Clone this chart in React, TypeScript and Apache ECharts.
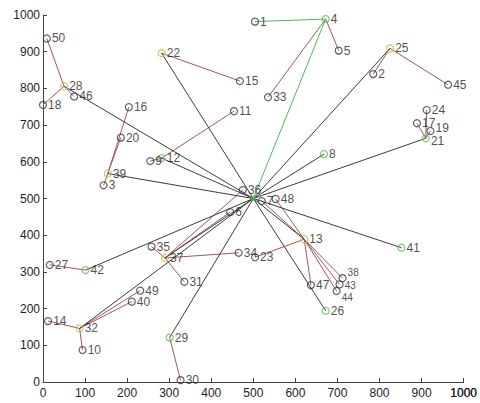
import React, { useEffect, useRef } from "react";
import * as echarts from "echarts";

// ---- data ----
const nodeIds = [
  1, 2, 3, 4, 5, 6, 7, 8, 9, 10,
  11, 12, 13, 14, 15, 16, 17, 18, 19, 20,
  21, 22, 23, 24, 25, 26, 27, 28, 29, 30,
  31, 32, 33, 34, 35, 36, 37, 38, 39, 40,
  41, 42, 43, 44, 45, 46, 47, 48, 49, 50,
];
const nodeX = [
  504, 785, 144, 672, 703, 445, 520, 668, 255, 94,
  454, 282, 621, 12, 468, 204, 889, 0, 921, 185,
  910, 282, 504, 912, 825, 672, 16, 50, 301, 327,
  336, 87, 535, 465, 258, 475, 290, 712, 154, 211,
  852, 101, 705, 698, 963, 74, 637, 553, 231, 9,
];
const nodeY = [
  982, 839, 536, 989, 903, 463, 493, 621, 602, 87,
  738, 610, 389, 166, 820, 749, 705, 755, 684, 666,
  664, 896, 340, 741, 909, 194, 319, 806, 121, 5,
  273, 146, 776, 352, 369, 523, 338, 283, 568, 219,
  366, 305, 266, 248, 810, 778, 264, 499, 249, 936,
];
const baseStation = [500, 500];
const xMaxTick = 1000;

// cluster heads
const clusterHeads = [4, 8, 12, 13, 21, 22, 25, 26, 28, 29, 32, 37, 39, 41, 42];
// member -> cluster head links
const memberLinks: [number, number][] = [
  [50, 28], [18, 28], [46, 28],
  [16, 39], [20, 39], [3, 39],
  [9, 12], [11, 12],
  [15, 22],
  [33, 4], [5, 4],
  [2, 25], [45, 25],
  [24, 21], [17, 21], [19, 21],
  [27, 42],
  [14, 32], [10, 32], [40, 32], [49, 32],
  [35, 37], [31, 37], [34, 37], [6, 37], [36, 37],
  [23, 13], [47, 13], [38, 13], [43, 13], [44, 13], [48, 13], [7, 13],
  [30, 29],
];
// cluster head -> base station links
const headToBase = [28, 22, 39, 12, 25, 21, 8, 13, 41, 26, 29, 42, 32, 37];
// green links
const greenLinks: [number, number][] = [[1, 4]];
const greenHeadToBase = [4];

// ---- styles ----
const RED = "#a4565c";
const BLACK = "#3c3c3c";
const GREEN = "#4fb84f";
const NODE = "#3a3450";
const CH_GREEN = "#5cbf4c";
const CH_YELLOW = "#b9c24a";
const yellowHeads = new Set([28, 39, 32, 37, 13, 22, 25]);
const labelNudge: Record<number, [number, number]> = {
  38: [0, -6],
  43: [0, 1],
  44: [0, 7],
  19: [0, -3],
  21: [0, 3],
};
const smallLabels = new Set([38, 43, 44]);

function pos(id: number): [number, number] {
  const i = nodeIds.indexOf(id);
  return [nodeX[i], nodeY[i]];
}

export default function App() {
  const ref = useRef<HTMLDivElement>(null);
  useEffect(() => {
    if (!ref.current) return;
    const chart = echarts.init(ref.current, undefined, { renderer: "svg" });

    const lineData: any[] = [];
    memberLinks.forEach(([a, b]) =>
      lineData.push({ coords: [pos(a), pos(b)], lineStyle: { color: RED } })
    );
    headToBase.forEach((h) =>
      lineData.push({ coords: [pos(h), baseStation], lineStyle: { color: BLACK } })
    );
    greenLinks.forEach(([a, b]) =>
      lineData.push({ coords: [pos(a), pos(b)], lineStyle: { color: GREEN } })
    );
    greenHeadToBase.forEach((h) =>
      lineData.push({ coords: [pos(h), baseStation], lineStyle: { color: GREEN } })
    );

    const nodeData = nodeIds.map((id, i) => {
      const isCH = clusterHeads.includes(id);
      const c = isCH ? (yellowHeads.has(id) ? CH_YELLOW : CH_GREEN) : NODE;
      const item: any = {
        value: [nodeX[i], nodeY[i], id],
        itemStyle: { color: "rgba(255,255,255,0)", borderColor: c, borderWidth: 1.2 },
      };
      if (labelNudge[id]) {
        item.label = { offset: labelNudge[id] };
        if (smallLabels.has(id)) item.label.fontSize = 10;
      }
      return item;
    });

    const axisCommon = {
      type: "value" as const,
      min: 0,
      max: 1000,
      interval: 100,
      splitLine: { show: false },
      axisLine: { show: true, lineStyle: { color: "#444", width: 1 } },
      axisTick: { show: true, inside: true, length: 4, lineStyle: { color: "#444" } },
    };
    const labelCommon = {
      color: "#1e1e1e",
      fontSize: 12,
      fontFamily: "Liberation Sans",
      showMinLabel: true,
      showMaxLabel: true,
      formatter: (v: number) => String(v),
    };

    chart.setOption({
      animation: false,
      backgroundColor: "#ffffff",
      grid: { left: 43, right: 10, top: 15, bottom: 21, containLabel: false },
      xAxis: { ...axisCommon, axisLabel: { ...labelCommon, margin: 5 } },
      yAxis: { ...axisCommon, axisLabel: { ...labelCommon, margin: 3 } },
      series: [
        {
          type: "lines",
          coordinateSystem: "cartesian2d",
          polyline: false,
          silent: true,
          lineStyle: { width: 1, opacity: 1 },
          data: lineData,
          z: 1,
        },
        {
          type: "scatter",
          symbol: "circle",
          symbolSize: 7,
          data: nodeData,
          z: 3,
          label: {
            show: true,
            position: "right",
            distance: 1,
            color: "#222",
            fontSize: 12,
            fontFamily: "Liberation Sans",
            formatter: (p: any) => String(p.value[2]),
          },
        },
        {
          type: "scatter",
          symbol: "circle",
          symbolSize: 5,
          data: [baseStation],
          itemStyle: { color: GREEN },
          z: 4,
        },
      ],
    });

    // the last x tick label overflows the page edge and is dropped by the axis; draw it at the axis' own position
    const px = chart.convertToPixel({ xAxisIndex: 0 }, xMaxTick) as number;
    const py = chart.convertToPixel({ yAxisIndex: 0 }, 0) as number;
    chart.setOption({
      graphic: [
        {
          type: "text",
          x: px,
          y: py + 5,
          style: {
            text: String(xMaxTick),
            align: "center",
            verticalAlign: "top",
            fill: "#1e1e1e",
            fontSize: 12,
            fontFamily: "Liberation Sans",
          },
        },
      ],
    });
    return () => chart.dispose();
  }, []);
  return (
    <div
      ref={ref}
      style={{ position: "fixed", left: 0, top: 0, width: 480, height: 403, background: "#fff" }}
    />
  );
}
